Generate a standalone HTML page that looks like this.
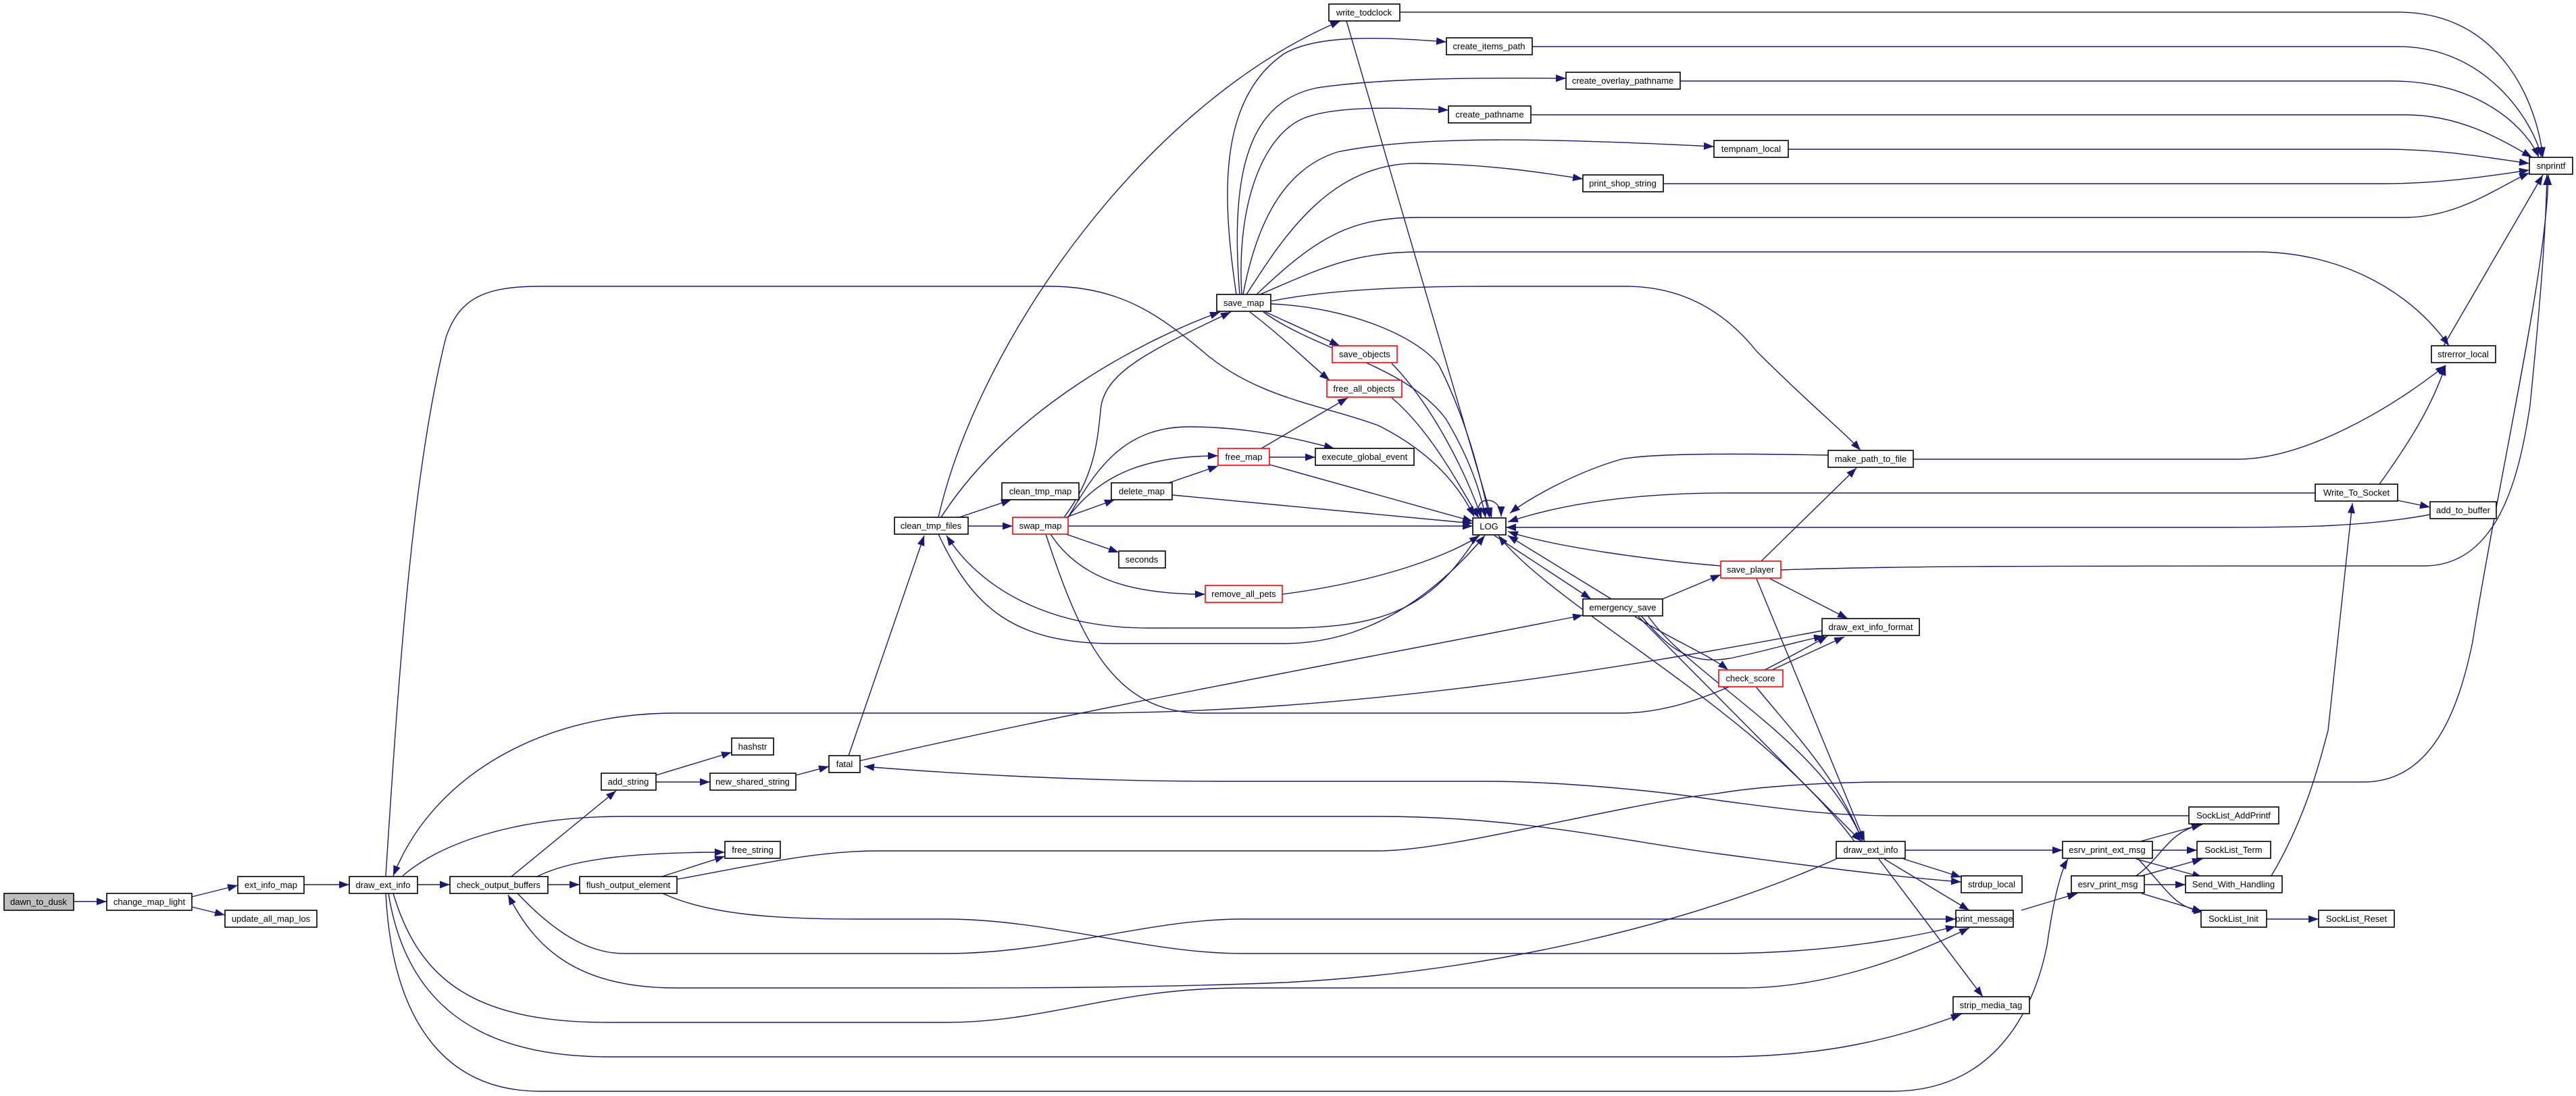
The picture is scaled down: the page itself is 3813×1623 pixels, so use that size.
<!DOCTYPE html>
<html><head><meta charset="utf-8"><style>
html,body{margin:0;padding:0;background:#fff;}
svg{display:block;}
text{font-family:"Liberation Sans",sans-serif;font-size:13px;fill:#000;}
</style></head><body>
<svg width="3813" height="1623" viewBox="0 0 3813 1623" xmlns="http://www.w3.org/2000/svg">
<defs>
<marker id="a" markerUnits="userSpaceOnUse" markerWidth="16" markerHeight="12" refX="15" refY="5.5" orient="auto">
<path d="M0,0 L15,5.5 L0,11 z" fill="#191970"/>
</marker>
</defs>
<g fill="none" stroke="#191970" stroke-width="1.4" marker-end="url(#a)">
<path d="M109,1335 L158,1335"/>
<path d="M284,1328 L352,1311"/>
<path d="M284,1343 L333,1355"/>
<path d="M450,1310 L517,1310"/>
<path d="M618,1310 L666,1310"/>
<path d="M811,1310 L858,1310"/>
<path d="M757,1298 L912,1171"/>
<path d="M971,1148 L1083,1114"/>
<path d="M971,1158 L1051,1158"/>
<path d="M1178,1148 L1227,1135"/>
<path d="M795,1298 C850,1270 950,1262 1073,1262"/>
<path d="M980,1298 L1073,1268"/>
<path d="M1002,1302 C1100,1285 1200,1260 1300,1260 L2041,1260 C2150,1260 2400,1190 2542,1175 C2600,1165 2700,1158 2800,1158 L3499,1158 C3600,1158 3640,1050 3660,950 C3700,700 3770,400 3772,259"/>
<path d="M766,1323 C820,1380 870,1412 924,1412 L1400,1412 C1560,1412 1700,1361 1838,1361 L2895,1361"/>
<path d="M981,1323 C1050,1355 1150,1361 1271,1361 L1400,1361 C1550,1361 1700,1412 1838,1412 L2542,1412 C2700,1412 2820,1390 2895,1372"/>
<path d="M2718,1272 C2500,1370 2200,1440 1900,1455 C1700,1463 1500,1463 1401,1463 L1000,1463 C850,1463 790,1400 752,1325"/>
<path d="M582,1323 C620,1450 700,1514 900,1514 L1401,1514 C1550,1514 1650,1463 1838,1463 L2580,1463 C2700,1463 2820,1420 2915,1374"/>
<path d="M575,1323 C600,1480 700,1565 900,1565 L2542,1565 C2700,1565 2800,1540 2903,1502"/>
<path d="M571,1323 C580,1500 650,1616 800,1616 L2800,1616 C2950,1616 3010,1500 3030,1400 C3040,1330 3050,1290 3061,1272"/>
<path d="M596,1297 C650,1250 760,1209 924,1209 L2041,1209 C2250,1209 2400,1245 2542,1264 C2700,1285 2800,1298 2903,1306"/>
<path d="M2697,934 C2400,990 2000,1056 1600,1056 L1000,1056 C800,1056 640,1150 582,1297"/>
<path d="M571,1297 C590,1000 610,700 660,500 C680,440 720,424 800,424 L1555,424 C1660,424 1720,470 1780,520 C1860,590 1960,600 2040,630 C2120,670 2160,720 2182,765"/>
<path d="M1389,766 C1450,500 1700,150 1984,31"/>
<path d="M1393,766 C1500,600 1700,500 1806,462"/>
<path d="M1420,766 L1497,740"/>
<path d="M1433,779 L1499,779"/>
<path d="M1389,791 C1440,900 1500,953 1650,953 L1900,953 C2050,953 2150,850 2198,793"/>
<path d="M2187,793 C2120,900 2050,930 1900,930 L1700,930 C1550,930 1450,870 1401,793"/>
<path d="M1256,1119 L1368,793"/>
<path d="M1271,1127 C1600,1050 2100,960 2343,911"/>
<path d="M1575,766 C1625,700 1625,640 1630,600 C1640,550 1700,520 1822,462"/>
<path d="M1581,766 C1630,700 1700,675 1803,675"/>
<path d="M1581,766 C1620,700 1660,632 1760,632 C1850,632 1920,650 1975,664"/>
<path d="M1578,766 L1650,740"/>
<path d="M1578,791 L1656,818"/>
<path d="M1555,791 C1600,860 1680,880 1784,880"/>
<path d="M1581,779 L2180,779"/>
<path d="M1548,791 C1600,950 1650,1056 1780,1056 L2400,1056 C2500,1056 2600,1000 2705,942"/>
<path d="M1730,715 L1803,690"/>
<path d="M1735,733 L2180,775"/>
<path d="M1867,664 L1995,589"/>
<path d="M1879,677 L1947,677"/>
<path d="M1879,688 L2180,772"/>
<path d="M1898,880 C2050,860 2150,820 2190,793"/>
<path d="M2060,589 C2120,640 2160,720 2189,767"/>
<path d="M1850,462 C1900,500 1940,540 1968,563"/>
<path d="M1873,462 L1983,512"/>
<path d="M2060,538 C2120,600 2170,700 2193,767"/>
<path d="M1870,462 C1950,520 2080,540 2140,620 C2170,670 2190,720 2199,767"/>
<path d="M1881,450 C2000,455 2100,500 2130,541 C2170,620 2190,700 2205,767"/>
<path d="M1993,31 L2208,767"/>
<path d="M1830,436 C1810,300 1800,150 1900,80 C1950,50 2050,55 2141,62"/>
<path d="M1835,436 C1820,250 1850,150 1950,130 C2050,115 2200,115 2318,116"/>
<path d="M1838,436 C1830,300 1870,200 1930,175 C1980,155 2080,160 2144,163"/>
<path d="M1840,436 C1860,330 1900,250 1980,225 C2100,200 2300,205 2537,217"/>
<path d="M1845,436 C1900,350 1970,240 2100,242 C2200,243 2280,255 2343,265"/>
<path d="M1860,436 C1950,350 2000,322 2100,322 L3560,322 C3640,322 3700,275 3744,256"/>
<path d="M1865,436 C1950,400 2000,373 2100,373 L3340,373 C3450,373 3560,420 3625,512"/>
<path d="M1881,446 C1950,432 2050,424 2200,424 L2406,424 C2500,424 2560,470 2600,520 C2680,600 2730,640 2754,667"/>
<path d="M3617,512 L3764,259"/>
<path d="M2636,844 C2800,838 3000,838 3588,838 C3700,838 3730,700 3745,600 C3760,450 3768,350 3770,259"/>
<path d="M2607,831 L2748,693"/>
<path d="M2547,838 C2450,830 2300,810 2232,787"/>
<path d="M2620,857 L2735,916"/>
<path d="M2600,857 L2760,1246"/>
<path d="M2461,887 L2547,851"/>
<path d="M2212,793 L2355,887"/>
<path d="M2385,887 L2232,793"/>
<path d="M2420,913 C2480,950 2530,970 2558,992"/>
<path d="M2425,913 L2755,1246"/>
<path d="M2440,913 C2500,1000 2700,1100 2757,1246"/>
<path d="M2430,913 C2470,960 2500,985 2560,975 C2610,965 2660,950 2700,942"/>
<path d="M2623,992 L2730,943"/>
<path d="M2600,1018 C2650,1080 2720,1150 2757,1246"/>
<path d="M2745,1246 C2600,1050 2300,900 2218,793"/>
<path d="M3240,1208 L2800,1208 C2700,1208 2620,1195 2542,1185 C2450,1170 2300,1157 2200,1157 L1806,1157 C1600,1157 1400,1145 1279,1135"/>
<path d="M2820,1259 L3053,1259"/>
<path d="M2818,1272 L2903,1299"/>
<path d="M2789,1272 L2915,1348"/>
<path d="M2781,1272 L2935,1476"/>
<path d="M2992,1348 L3075,1323"/>
<path d="M3168,1246 L3259,1221"/>
<path d="M3186,1259 L3252,1259"/>
<path d="M3162,1272 L3260,1299"/>
<path d="M3165,1272 C3210,1320 3220,1345 3262,1350"/>
<path d="M3162,1297 C3200,1270 3210,1230 3260,1221"/>
<path d="M3170,1297 L3260,1272"/>
<path d="M3174,1310 L3235,1310"/>
<path d="M3170,1323 L3260,1350"/>
<path d="M3355,1361 L3432,1361"/>
<path d="M3362,1297 C3420,1200 3440,1100 3446,1082 L3482,745"/>
<path d="M3522,717 C3570,650 3600,600 3620,541"/>
<path d="M3549,741 L3597,751"/>
<path d="M3427,730 L2560,730 C2400,730 2300,750 2232,773"/>
<path d="M3597,762 C3500,780 3400,781 3300,781 L2229,781"/>
<path d="M2832,680 L3312,680 C3400,680 3520,620 3620,541"/>
<path d="M2706,674 C2600,672 2450,670 2400,680 C2330,700 2260,740 2235,760"/>
<path d="M2192,767 C2175,735 2222,730 2222,765"/>
<path d="M2072,18 L3550,18 C3700,18 3755,150 3764,233"/>
<path d="M2268,69 L3550,69 C3680,69 3750,180 3762,233"/>
<path d="M2487,120 L3540,120 C3670,120 3740,190 3758,233"/>
<path d="M2266,170 L3560,170 C3640,170 3700,205 3748,233"/>
<path d="M2647,221 L3530,221 C3620,221 3690,235 3744,242"/>
<path d="M2462,272 L3530,272 C3620,272 3700,258 3744,252"/>
</g>
<g stroke-width="1.6" fill="#fff">
<rect x="6" y="1323" width="103" height="25" fill="#bfbfbf" stroke="#000"/>
<rect x="158" y="1323" width="126" height="25" stroke="#000"/>
<rect x="352" y="1298" width="98" height="25" stroke="#000"/>
<rect x="333" y="1348" width="136" height="25" stroke="#000"/>
<rect x="517" y="1298" width="101" height="25" stroke="#000"/>
<rect x="666" y="1298" width="145" height="25" stroke="#000"/>
<rect x="858" y="1298" width="144" height="25" stroke="#000"/>
<rect x="890" y="1145" width="81" height="25" stroke="#000"/>
<rect x="1083" y="1093" width="62" height="25" stroke="#000"/>
<rect x="1051" y="1145" width="127" height="25" stroke="#000"/>
<rect x="1227" y="1119" width="46" height="25" stroke="#000"/>
<rect x="1073" y="1246" width="82" height="25" stroke="#000"/>
<rect x="1324" y="766" width="109" height="25" stroke="#000"/>
<rect x="1483" y="715" width="114" height="25" stroke="#000"/>
<rect x="1499" y="766" width="82" height="25" stroke="#f00"/>
<rect x="1645" y="715" width="90" height="25" stroke="#000"/>
<rect x="1803" y="664" width="76" height="25" stroke="#f00"/>
<rect x="1947" y="664" width="146" height="25" stroke="#000"/>
<rect x="1964" y="563" width="111" height="25" stroke="#f00"/>
<rect x="1656" y="816" width="69" height="25" stroke="#000"/>
<rect x="1784" y="867" width="114" height="25" stroke="#f00"/>
<rect x="2180" y="767" width="49" height="25" stroke="#000"/>
<rect x="2343" y="887" width="118" height="25" stroke="#000"/>
<rect x="1801" y="436" width="80" height="25" stroke="#000"/>
<rect x="1972" y="512" width="96" height="25" stroke="#f00"/>
<rect x="1967" y="6" width="105" height="25" stroke="#000"/>
<rect x="2141" y="56" width="127" height="25" stroke="#000"/>
<rect x="2318" y="107" width="169" height="25" stroke="#000"/>
<rect x="2144" y="157" width="122" height="25" stroke="#000"/>
<rect x="2537" y="208" width="110" height="25" stroke="#000"/>
<rect x="2343" y="259" width="119" height="25" stroke="#000"/>
<rect x="3744" y="233" width="64" height="25" stroke="#000"/>
<rect x="3599" y="512" width="95" height="25" stroke="#000"/>
<rect x="2706" y="667" width="126" height="25" stroke="#000"/>
<rect x="3427" y="717" width="122" height="25" stroke="#000"/>
<rect x="3597" y="743" width="98" height="25" stroke="#000"/>
<rect x="2547" y="831" width="89" height="25" stroke="#f00"/>
<rect x="2697" y="916" width="144" height="25" stroke="#000"/>
<rect x="2544" y="992" width="95" height="25" stroke="#f00"/>
<rect x="2718" y="1246" width="102" height="25" stroke="#000"/>
<rect x="3053" y="1246" width="133" height="25" stroke="#000"/>
<rect x="3240" y="1195" width="133" height="25" stroke="#000"/>
<rect x="3252" y="1246" width="109" height="25" stroke="#000"/>
<rect x="2903" y="1297" width="90" height="25" stroke="#000"/>
<rect x="3066" y="1297" width="108" height="25" stroke="#000"/>
<rect x="3235" y="1297" width="143" height="25" stroke="#000"/>
<rect x="2895" y="1348" width="85" height="25" stroke="#000"/>
<rect x="3258" y="1348" width="97" height="25" stroke="#000"/>
<rect x="3432" y="1348" width="112" height="25" stroke="#000"/>
<rect x="2891" y="1476" width="113" height="25" stroke="#000"/>
</g>
<g text-anchor="middle">
<text x="57" y="1340">dawn_to_dusk</text>
<text x="221" y="1340">change_map_light</text>
<text x="401" y="1315">ext_info_map</text>
<text x="401" y="1365">update_all_map_los</text>
<text x="567" y="1315">draw_ext_info</text>
<text x="738" y="1315">check_output_buffers</text>
<text x="930" y="1315">flush_output_element</text>
<text x="930" y="1162">add_string</text>
<text x="1114" y="1110">hashstr</text>
<text x="1114" y="1162">new_shared_string</text>
<text x="1250" y="1136">fatal</text>
<text x="1114" y="1263">free_string</text>
<text x="1378" y="783">clean_tmp_files</text>
<text x="1540" y="732">clean_tmp_map</text>
<text x="1540" y="783">swap_map</text>
<text x="1690" y="732">delete_map</text>
<text x="1841" y="681">free_map</text>
<text x="2020" y="681">execute_global_event</text>
<text x="2019" y="580">free_all_objects</text>
<text x="1690" y="833">seconds</text>
<text x="1841" y="884">remove_all_pets</text>
<text x="2204" y="784">LOG</text>
<text x="2402" y="904">emergency_save</text>
<text x="1841" y="453">save_map</text>
<text x="2020" y="529">save_objects</text>
<text x="2019" y="23">write_todclock</text>
<text x="2204" y="73">create_items_path</text>
<text x="2402" y="124">create_overlay_pathname</text>
<text x="2205" y="174">create_pathname</text>
<text x="2592" y="225">tempnam_local</text>
<text x="2402" y="276">print_shop_string</text>
<text x="3776" y="250">snprintf</text>
<text x="3646" y="529">strerror_local</text>
<text x="2769" y="684">make_path_to_file</text>
<text x="3488" y="734">Write_To_Socket</text>
<text x="3646" y="760">add_to_buffer</text>
<text x="2591" y="848">save_player</text>
<text x="2769" y="933">draw_ext_info_format</text>
<text x="2591" y="1009">check_score</text>
<text x="2769" y="1263">draw_ext_info</text>
<text x="3119" y="1263">esrv_print_ext_msg</text>
<text x="3306" y="1212">SockList_AddPrintf</text>
<text x="3306" y="1263">SockList_Term</text>
<text x="2948" y="1314">strdup_local</text>
<text x="3120" y="1314">esrv_print_msg</text>
<text x="3306" y="1314">Send_With_Handling</text>
<text x="2937" y="1365">print_message</text>
<text x="3306" y="1365">SockList_Init</text>
<text x="3488" y="1365">SockList_Reset</text>
<text x="2947" y="1493">strip_media_tag</text>
</g>
</svg>
</body></html>
